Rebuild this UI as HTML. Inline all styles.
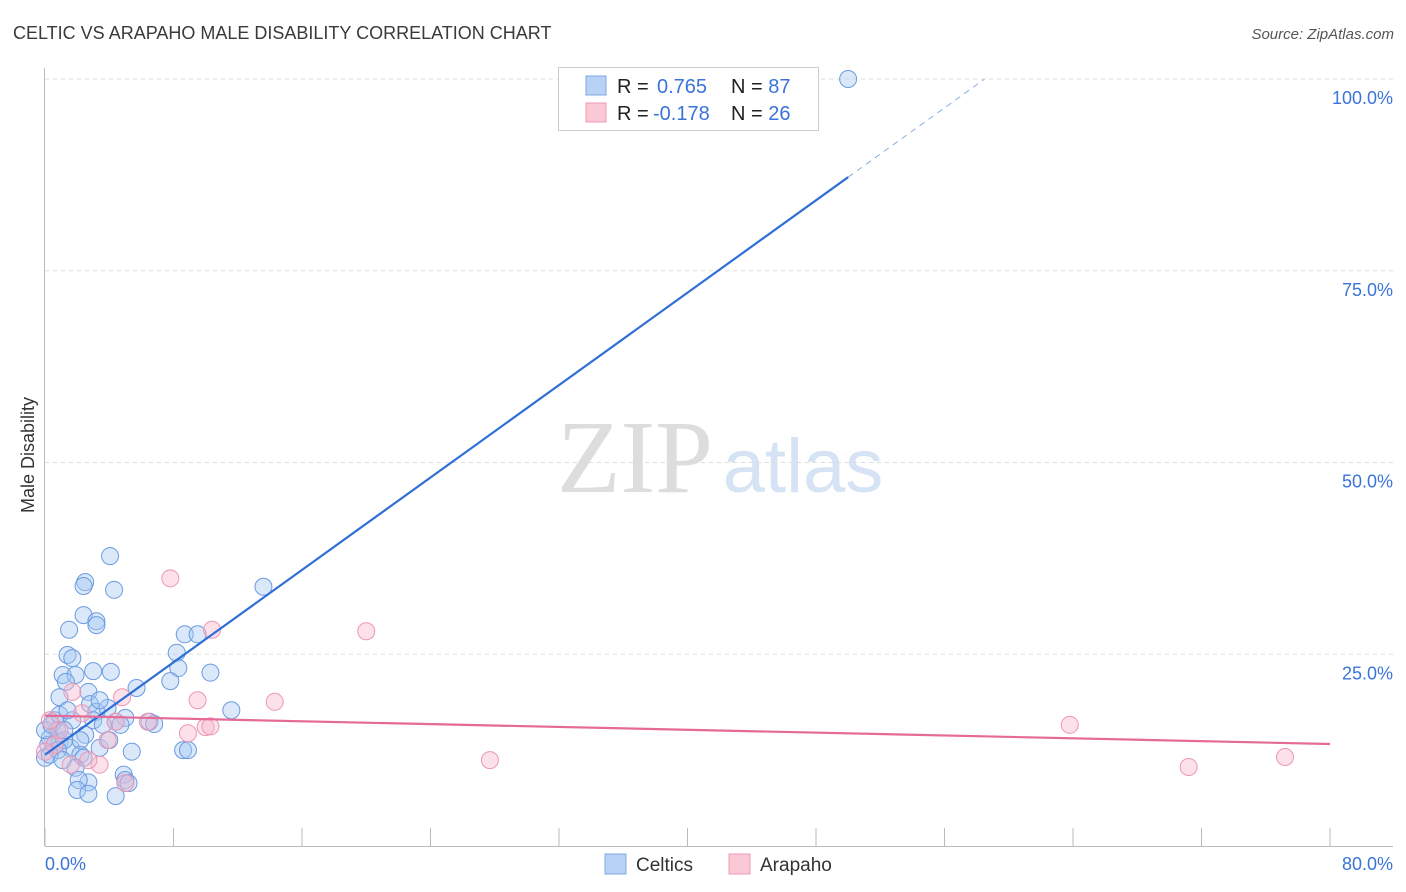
<!DOCTYPE html>
<html><head><meta charset="utf-8"><style>
body{margin:0;background:#fff;font-family:"Liberation Sans",sans-serif;}
svg{display:block}
</style></head><body>
<svg id="c" width="1406" height="892" xmlns="http://www.w3.org/2000/svg">
<text x="13" y="39" font-size="18" fill="#3a3a3a">CELTIC VS ARAPAHO MALE DISABILITY CORRELATION CHART</text>
<text x="1394" y="39" font-size="15" fill="#555" font-style="italic" text-anchor="end">Source: ZipAtlas.com</text>
<g>
<text x="635" y="492" font-size="104" font-family="Liberation Serif,serif" fill="#ddd" text-anchor="middle">ZIP</text>
<text x="803" y="492" font-size="76" fill="#d5e3f5" text-anchor="middle">atlas</text>
</g>
<g id="grid"></g>
<g id="axes"></g>
<g id="pts"></g>
<g id="lines"></g>
<text transform="translate(34,455) rotate(-90)" font-size="18" fill="#333" text-anchor="middle">Male Disability</text>
<g>
<rect x="558.5" y="67.5" width="260" height="63" fill="#fff" stroke="#ccc"/>
<rect x="586" y="76" width="20" height="19" fill="#b8d2f5" stroke="#7fa8e0"/>
<rect x="586" y="103" width="20" height="19" fill="#fbc9d6" stroke="#eb9ab2"/>
<text x="617" y="93" font-size="20" fill="#222">R = <tspan fill="#3b74d8" x="657">0.765</tspan><tspan x="731">N = </tspan><tspan fill="#3b74d8">87</tspan></text>
<text x="617" y="120" font-size="20" fill="#222">R = <tspan fill="#3b74d8" x="653">-0.178</tspan><tspan x="731">N = </tspan><tspan fill="#3b74d8">26</tspan></text>
</g>
<g>
<rect x="605" y="854" width="21" height="20" fill="#b8d2f5" stroke="#7fa8e0"/>
<text x="636" y="871" font-size="19" fill="#333">Celtics</text>
<rect x="729" y="854" width="21" height="20" fill="#fbc9d6" stroke="#eb9ab2"/>
<text x="760" y="871" font-size="19" fill="#333">Arapaho</text>
</g>
</svg>
<script>
const yTicks=[25,50,75,100];
const yTickLabels=["25.0%","50.0%","75.0%","100.0%"];
const xTickVals=[0,8,16,24,32,40,48,56,64,72,80];
const celticsX=[4.05,2.5,2.4,4.3,2.4,3.2,3.2,1.5,8.7,9.5,13.6,1.4,1.7,8.2,1.1,1.9,3.0,4.1,8.3,10.3,1.3,5.7,7.8,0.9,2.7,2.8,3.2,3.9,11.6,6.5,6.8,5.0,4.4,3.0,3.6,0.6,0.75,0.3,0.2,0.9,1.6,2.5,2.2,3.4,5.4,8.6,8.9,2.2,2.4,1.9,4.9,5.0,2.7,2.1,2.0,2.7,4.4,5.2,0,0.6,1.2,0,0.4,0.9,1.7,4.0,4.7,50.0,3.4,1.4,0.8,0.3,1.1,1.2];
const celticsY=[37.8,34.4,33.9,33.4,30.1,29.3,28.8,28.2,27.6,27.6,33.8,24.9,24.5,25.2,22.3,22.3,22.8,22.7,23.2,22.6,21.4,20.6,21.5,19.4,20.1,18.5,17.5,18.0,17.7,16.2,15.9,16.7,16.2,16.4,15.8,16.4,15.1,14.1,13.2,13.6,12.8,14.5,13.8,12.8,12.3,12.5,12.5,11.9,11.5,10.2,9.3,8.6,8.3,8.6,7.3,6.8,6.5,8.2,11.5,13.2,13.8,15.1,15.8,17.1,16.4,13.8,15.8,100,19.0,17.7,12.5,11.9,11.2,15.1];
const arapahoX=[7.8,10.4,20.0,1.7,4.8,9.5,14.3,10.0,10.3,8.9,6.4,3.9,3.4,2.7,5.0,27.7,63.8,71.2,77.2,0.6,0.9,0.3,2.3,1.6,0,4.4];
const arapahoY=[34.9,28.2,28.0,20.1,19.4,19.0,18.8,15.5,15.6,14.7,16.2,13.8,10.6,11.2,8.2,11.2,15.8,10.3,11.6,13.2,15.1,16.4,17.3,10.6,12.3,16.2];
const celticsTrend=[0,11.9,50,87.2,58.5,100];
const arapahoTrend=[0,17.0,80,13.3];
const NS="http://www.w3.org/2000/svg";
const X=v=>45+v*1285/80, Y=v=>846-v*7.67;
function mk(t,a,p){const e=document.createElementNS(NS,t);for(const k in a)e.setAttribute(k,a[k]);p.appendChild(e);return e;}
const grid=document.getElementById('grid'),axes=document.getElementById('axes'),pts=document.getElementById('pts'),lines=document.getElementById('lines');
yTicks.forEach((v,i)=>{
 const l=mk('line',{x1:45,x2:1393,y1:Y(v),y2:Y(v),stroke:'#ddd','stroke-dasharray':'4,4'},grid);
 
 
 const t=mk('text',{x:1393,y:Y(v)+25,'font-size':18,fill:'#3b74d8','text-anchor':'end'},axes);
 t.textContent=yTickLabels[i];
 
 
});
const ya=mk('line',{x1:44.5,x2:44.5,y1:68,y2:846,stroke:'#bbb'},axes);


const xa=mk('line',{x1:45,x2:1393,y1:846.5,y2:846.5,stroke:'#bbb'},axes);


xTickVals.forEach(v=>{
 const t=mk('line',{x1:X(v),x2:X(v),y1:828,y2:846,stroke:'#bbb'},axes);
 
 
});
const xl0=mk('text',{x:45,y:870,'font-size':18,fill:'#3b74d8'},axes);xl0.textContent='0.0%';


const xl1=mk('text',{x:1393,y:870,'font-size':18,fill:'#3b74d8','text-anchor':'end'},axes);xl1.textContent='80.0%';


celticsX.forEach((x,i)=>{
 const c=mk('circle',{cx:X(x),cy:Y(celticsY[i]),r:8.5,fill:'rgba(168,200,242,0.42)',stroke:'#6b9be0','stroke-width':1},pts);
 
 
});
arapahoX.forEach((x,i)=>{
 const c=mk('circle',{cx:X(x),cy:Y(arapahoY[i]),r:8.5,fill:'rgba(248,184,204,0.42)',stroke:'#eb98b4','stroke-width':1},pts);
 
 
});
const bt=mk('line',{x1:X(celticsTrend[0]),y1:Y(celticsTrend[1]),x2:X(celticsTrend[2]),y2:Y(celticsTrend[3]),stroke:'#2f6fd6','stroke-width':2.2},lines);


const bd=mk('line',{x1:X(celticsTrend[2]),y1:Y(celticsTrend[3]),x2:X(celticsTrend[4]),y2:Y(celticsTrend[5]),stroke:'#8aaee0','stroke-width':1,'stroke-dasharray':'6,5'},lines);


const pt=mk('line',{x1:X(arapahoTrend[0]),y1:Y(arapahoTrend[1]),x2:X(arapahoTrend[2]),y2:Y(arapahoTrend[3]),stroke:'#e56a96','stroke-width':2.2},lines);


</script>
</body></html>
